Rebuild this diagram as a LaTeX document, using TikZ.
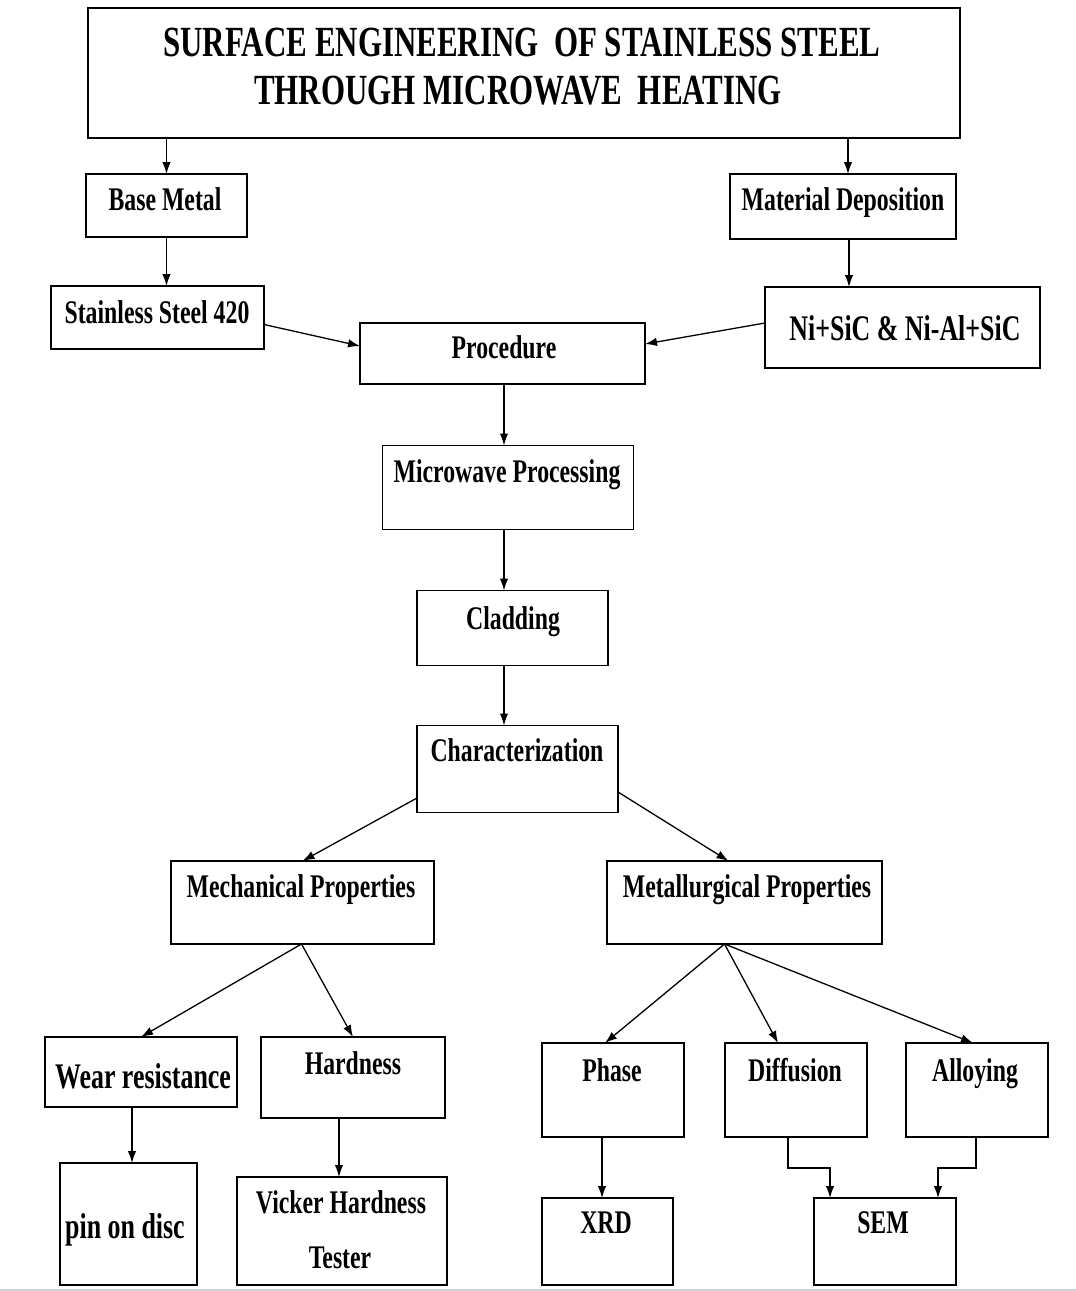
\documentclass[tikz,border=0pt]{standalone}
\usepackage{fontspec}
\setmainfont{Liberation Serif}
\newfontfamily\cf[FakeStretch=0.72]{Liberation Serif}
\usetikzlibrary{arrows.meta}
\begin{document}
\begin{tikzpicture}[x=1pt,y=-1pt,
  box/.style={draw, line width=1.9pt, inner sep=0pt, outer sep=0pt},
  lbl/.style={anchor=base, inner sep=0pt, font=\cf\bfseries\fontsize{33}{36}\selectfont},
  big/.style={anchor=base, inner sep=0pt, font=\cf\bfseries\fontsize{36}{40}\selectfont},
  ttl/.style={anchor=base, inner sep=0pt, font=\cf\bfseries\fontsize{43}{46}\selectfont},
  arr/.style={line width=1.3pt, -{Latex[length=12pt,width=8.5pt]}}]
\useasboundingbox (0,0) rectangle (1076,1291);
% boxes
\node[box, minimum width=872pt, minimum height=130pt] (title) at (524,73) {};
\node[box, minimum width=161pt, minimum height=63pt] (base) at (166.5,205.5) {};
\node[box, minimum width=226pt, minimum height=65pt] (matdep) at (843,206.5) {};
\node[box, minimum width=213pt, minimum height=63pt] (ss) at (157.5,317.5) {};
\node[box, minimum width=275pt, minimum height=81pt] (ni) at (902.5,327.5) {};
\node[box, minimum width=285pt, minimum height=61pt] (proc) at (502.5,353.5) {};
\node[box, minimum width=251pt, minimum height=84pt] (mw) at (508,487.5) {};
\node[box, minimum width=191pt, minimum height=75pt] (clad) at (512.5,628) {};
\node[box, minimum width=201pt, minimum height=87pt] (char) at (517.5,769) {};
\node[box, minimum width=263pt, minimum height=83pt] (mech) at (302.5,902.5) {};
\node[box, minimum width=275pt, minimum height=83pt] (metal) at (744.5,902.5) {};
\node[box, minimum width=192pt, minimum height=70pt] (wear) at (141,1072) {};
\node[box, minimum width=184pt, minimum height=81pt] (hard) at (353,1077.5) {};
\node[box, minimum width=142pt, minimum height=94pt] (phase) at (613,1090) {};
\node[box, minimum width=142pt, minimum height=94pt] (diff) at (796,1090) {};
\node[box, minimum width=142pt, minimum height=94pt] (alloy) at (977,1090) {};
\node[box, minimum width=137pt, minimum height=122pt] (pin) at (128.5,1224) {};
\node[box, minimum width=210pt, minimum height=108pt] (vick) at (342,1231) {};
\node[box, minimum width=131pt, minimum height=87pt] (xrd) at (607.5,1241.5) {};
\node[box, minimum width=142pt, minimum height=87pt] (sem) at (885,1241.5) {};
% labels
\node[ttl] (t1) at (522,56) {SURFACE ENGINEERING\ \ OF STAINLESS STEEL};
\node[ttl] (t2) at (518,104) {THROUGH MICROWAVE\ \ HEATING};
\node[lbl] (lbase) at (165,210) {Base Metal};
\node[lbl] (lmat) at (843,210) {Material Deposition};
\node[lbl] (lss) at (157,323) {Stainless Steel 420};
\node[big] (lni) at (905,340) {Ni+SiC \& Ni-Al+SiC};
\node[lbl] (lproc) at (504,358) {Procedure};
\node[lbl] (lmw) at (507,482) {Microwave Processing};
\node[lbl] (lclad) at (513,629) {Cladding};
\node[lbl] (lchar) at (517,761) {Characterization};
\node[lbl] (lmech) at (301,897) {Mechanical Properties};
\node[lbl] (lmetal) at (747,897) {Metallurgical Properties};
\node[big] (lwear) at (143,1088) {Wear resistance};
\node[lbl] (lhard) at (353,1074) {Hardness};
\node[lbl] (lphase) at (612,1081) {Phase};
\node[lbl] (ldiff) at (795,1081) {Diffusion};
\node[lbl] (lalloy) at (975,1081) {Alloying};
\node[big] (lpin) at (125,1238) {pin on disc};
\node[lbl] (lvick) at (341,1213) {Vicker Hardness};
\node[lbl] (ltest) at (340,1268) {Tester};
\node[lbl] (lxrd) at (606,1233) {XRD};
\node[lbl] (lsem) at (883,1233) {SEM};
% connectors
\draw[arr] (title.south -| base.north) -- (base.north);
\draw[arr] ([xshift=5pt]title.south -| matdep.north) -- ([xshift=5pt]matdep.north);
\draw[arr] (base.south) -- (base.south |- ss.north);
\draw[arr] ([xshift=6pt]matdep.south) -- ([xshift=6pt]matdep.south |- ni.north);
\draw[arr] ([yshift=-7pt]ss.east) -- ([yshift=7.5pt]proc.west);
\draw[arr] ([yshift=4.5pt]ni.west) -- ([yshift=9.5pt]proc.east);
\draw[arr] ([xshift=1.5pt]proc.south) -- ([xshift=1.5pt]proc.south |- mw.north);
\draw[arr] ([xshift=-4pt]mw.south) -- ([xshift=-4pt]mw.south |- clad.north);
\draw[arr] ([xshift=-8.5pt]clad.south) -- ([xshift=-8.5pt]clad.south |- char.north);
\draw[arr] ([yshift=-29pt]char.west) -- (mech.north);
\draw[arr] ([yshift=-23pt]char.east) -- ([xshift=-16pt]metal.north);
\draw[arr] ([xshift=-1pt]mech.south) -- (wear.north);
\draw[arr] ([xshift=-1pt]mech.south) -- (hard.north);
\draw[arr] ([xshift=-20pt]metal.south) -- ([xshift=-8pt]phase.north);
\draw[arr] ([xshift=-20pt]metal.south) -- ([xshift=-18pt]diff.north);
\draw[arr] ([xshift=-20pt]metal.south) -- ([xshift=-4pt]alloy.north);
\draw[arr] ([xshift=-9pt]wear.south) -- ([xshift=-9pt]wear.south |- pin.north);
\draw[arr] ([xshift=-14pt]hard.south) -- ([xshift=-14pt]hard.south |- vick.north);
\draw[arr] ([xshift=-11pt]phase.south) -- ([xshift=-11pt]phase.south |- xrd.north);
\draw[arr] ([xshift=-8pt]diff.south) -- ++(0,31) -| ([xshift=-55pt]sem.north);
\draw[arr] ([xshift=-1pt]alloy.south) -- ++(0,31) -| ([xshift=53pt]sem.north);
% bottom rule
\draw[line width=1.5pt, color={rgb,255:red,205;green,210;blue,222}] (0,1290) -- (1076,1290);
\end{tikzpicture}
\end{document}
